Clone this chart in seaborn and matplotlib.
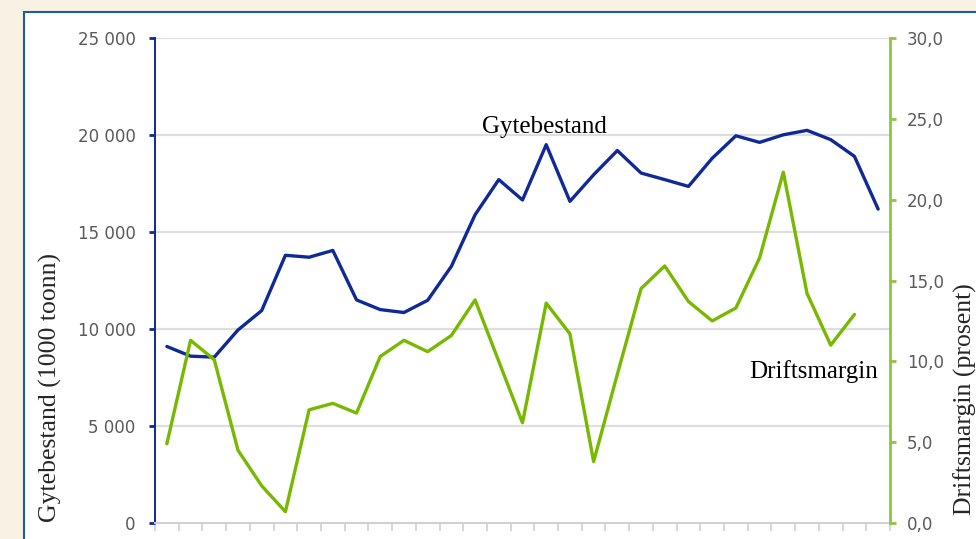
import matplotlib

matplotlib.use("Agg")
import matplotlib.pyplot as plt
import matplotlib.patches as mpatches
import pandas as pd
import seaborn as sns

# Gytebestand (1000 tonn) og driftsmargin (prosent), ett punkt per år
aar = list(range(1980, 2011))
gytebestand = [9100, 8600, 8550, 9950, 10950, 13800, 13700, 14050, 11500, 11000,
               10850, 11480, 13230, 15890, 17700, 16650, 19500, 16580, 17950, 19200,
               18040, 17700, 17350, 18800, 19960, 19620, 20010, 20240, 19760, 18900,
               16180]
driftsmargin = [4.9, 11.3, 10.1, 4.5, 2.3, 0.7, 7.0, 7.4, 6.8, 10.3,
                11.3, 10.6, 11.6, 13.8, 10.0, 6.2, 13.6, 11.7, 3.8, 9.2,
                14.5, 15.9, 13.7, 12.5, 13.3, 16.4, 21.7, 14.2, 11.0, 12.9]

venstre_ticks = [0, 5000, 10000, 15000, 20000, 25000]
venstre_labels = ["0", "5 000", "10 000", "15 000", "20 000", "25 000"]
hoyre_ticks = [0, 5, 10, 15, 20, 25, 30]
hoyre_labels = ["0,0", "5,0", "10,0", "15,0", "20,0", "25,0", "30,0"]

BLA = "#0f2a96"
GRONN = "#77b800"
GRA = "#595959"

df_g = pd.DataFrame({"aar": aar, "verdi": gytebestand})
df_d = pd.DataFrame({"aar": aar[:len(driftsmargin)], "verdi": driftsmargin})

sns.set_theme(style="white")
plt.rcParams["font.family"] = ["DejaVu Sans"]

fig = plt.figure(figsize=(9.76, 5.39), dpi=100)
fig.patch.set_facecolor("#f9f1e4")
# hvit ramme rundt figuren (bak aksene)
fig.patches.append(mpatches.Rectangle((24 / 976, -0.1), 1.2, (539 - 12) / 539 + 0.1,
                                      transform=fig.transFigure, facecolor="white",
                                      edgecolor="#1e5aa8", linewidth=1.5, zorder=-5))

ax = fig.add_axes([155 / 976, 16 / 539, 735 / 976, 485 / 539])
ax.set_facecolor("none")
ax2 = ax.twinx()

ax.set_ylim(0, 25000)
ax2.set_ylim(0, 30)
ax.set_xlim(1979.5, 2010.5)

for y in venstre_ticks[1:]:
    ax.axhline(y, color="#dedede", lw=1.6, zorder=0)

sns.lineplot(data=df_g, x="aar", y="verdi", ax=ax, color=BLA, lw=2.4, zorder=3)
sns.lineplot(data=df_d, x="aar", y="verdi", ax=ax2, color=GRONN, lw=2.4, zorder=3)

ax.set_xlabel("")
ax.set_ylabel("")
ax2.set_xlabel("")
ax2.set_ylabel("")

ax.set_yticks(venstre_ticks)
ax.set_yticklabels(venstre_labels)
ax2.set_yticks(hoyre_ticks)
ax2.set_yticklabels(hoyre_labels)
ax.set_xticks([x - 0.5 for x in aar] + [aar[-1] + 0.5])
ax.set_xticklabels([])

for a in (ax, ax2):
    a.spines["top"].set_visible(False)
ax.spines["right"].set_visible(False)
ax2.spines["left"].set_visible(False)
ax2.spines["bottom"].set_visible(False)
ax.spines["left"].set_color(BLA)
ax.spines["left"].set_linewidth(1.4)
ax2.spines["right"].set_color("#8cc63f")
ax2.spines["right"].set_linewidth(2)
ax.spines["bottom"].set_color("#d0d0d0")
ax.spines["bottom"].set_linewidth(1.4)

ax.tick_params(axis="y", direction="out", length=4, width=2, color=BLA,
               labelcolor=GRA, labelsize=12, pad=10, left=True)
ax2.tick_params(axis="y", direction="out", length=4, width=2, color="#8cc63f",
                labelcolor=GRA, labelsize=12, pad=8, right=True)
ax.tick_params(axis="x", direction="out", length=6, width=1.2, color="#d0d0d0",
               bottom=True)

serif = ["Liberation Serif", "DejaVu Serif"]
ax.text(1993.3, 20100, "Gytebestand", fontsize=18, family=serif, color="black",
        ha="left", va="baseline")
ax2.text(2010.0, 8.97, "Driftsmargin", fontsize=18, family=serif, color="black",
         ha="right", va="baseline")

fig.text(50 / 976, (539 - 388) / 539, "Gytebestand (1000 toonn)", rotation=90,
         fontsize=18.5, family=serif, ha="center", va="center")
fig.text(965 / 976, (539 - 283) / 539, "Driftsmargin (prosent)", rotation=90,
         rotation_mode="anchor", fontsize=18.5, family=serif, ha="right", va="center")

fig.savefig("out.png", dpi=100, facecolor=fig.get_facecolor())
plt.close(fig)
